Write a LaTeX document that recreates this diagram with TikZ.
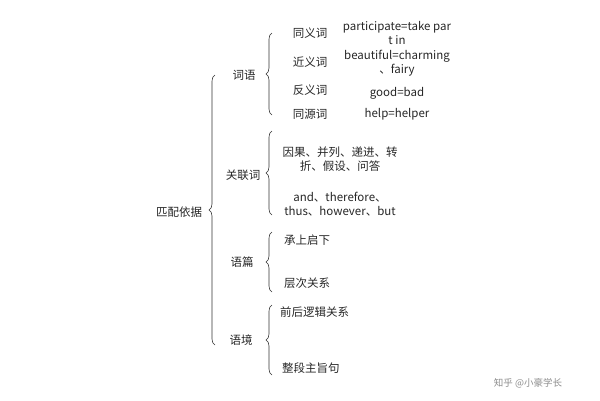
\documentclass[tikz,border=0pt]{standalone}
\usepackage{fontspec}
\setmainfont{Noto Sans CJK SC}
\usetikzlibrary{decorations.pathreplacing}

\tikzset{
  lbl/.style={font=\fontsize{11.5}{14}\selectfont, text=black!85, inner sep=1pt},
  leaf/.style={lbl, anchor=west},
  curly/.style={decorate, decoration={brace, amplitude=6pt, aspect=#1}, semithick, black!80},
  curly/.default=0.5
}

\begin{document}
\begin{tikzpicture}[x=1pt,y=-1pt]
\useasboundingbox (0,0) rectangle (600,400);
% root and main brace
\node [lbl] (root) at (179,212) {匹配依据};
\draw [curly=0.5] (215,345) -- (215,75);
% level one
\node [lbl] (ciyu) at (244,75) {词语};
\node [lbl] (guanlian) at (243,175) {关联词};
\node [lbl] (yupian) at (242,262) {语篇};
\node [lbl] (yujing) at (241,340) {语境};
\draw [curly=0.5] (272,115) -- (272,33);
\draw [curly=0.5] (272,215) -- (272,131);
\draw [curly=0.5] (272,292) -- (272,232);
\draw [curly=0.5] (272,375) -- (272,305);
% words
\node [lbl] (tongyi) at (310,33) {同义词};
\node [lbl] (jinyi) at (310,62) {近义词};
\node [lbl] (fanyi) at (310,90) {反义词};
\node [lbl] (tongyuan) at (310,114) {同源词};
\node [lbl, align=center] (ex1) at (397,33) {participate=take par\\t in};
\node [lbl, align=center] (ex2) at (397,63) {beautiful=charming\\、fairy};
\node [lbl] (ex3) at (397,93) {good=bad};
\node [lbl] (ex4) at (397,114) {help=helper};
% connectives
\node [lbl, align=center] (yinguo) at (340,159) {因果、并列、递进、转\\折、假设、问答};
\node [lbl, align=center] (andthen) at (340,204) {and、therefore、\\thus、however、but};
% text and context
\node [leaf] (chengshang) at (283,240) {承上启下};
\node [leaf] (cengci) at (283,283) {层次关系};
\node [leaf] (qianhou) at (279,312) {前后逻辑关系};
\node [leaf] (zhengduan) at (281,368) {整段主旨句};
% watermark
\node [lbl, text=black!45, font=\fontsize{9.5}{11}\selectfont] (mark) at (528,383) {知乎 @小豪学长};
\end{tikzpicture}
\end{document}
